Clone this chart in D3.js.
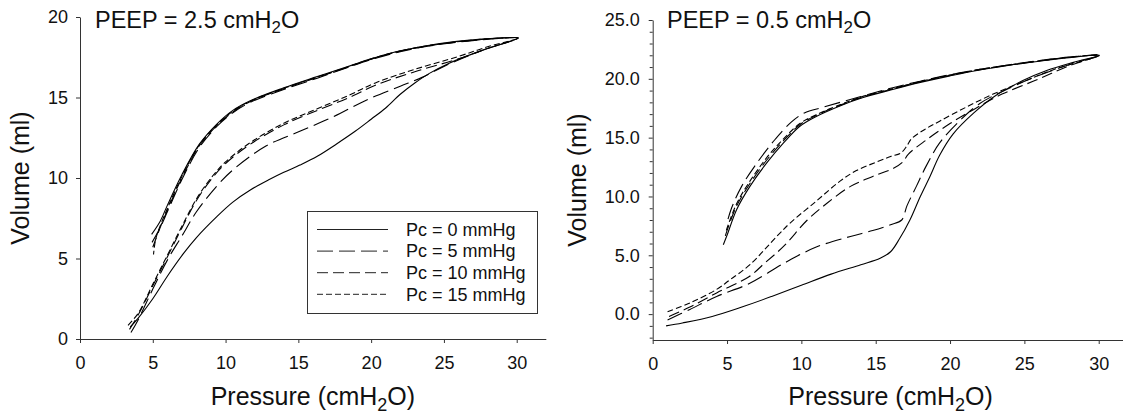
<!DOCTYPE html>
<html>
<head>
<meta charset="utf-8">
<script src="https://cdn.jsdelivr.net/npm/d3@7"></script>
<style>
  body { margin: 0; background: #fff; }
  text { font-family: "Liberation Sans", Arial, sans-serif; fill: #111; }
</style>
</head>
<body>
<div id="chart"></div>
<script>
// series labels (legend) and dash pattern per series
const seriesNames = ["Pc = 0 mmHg", "Pc = 5 mmHg", "Pc = 10 mmHg", "Pc = 15 mmHg"];

const xTicks = [0, 5, 10, 15, 20, 25, 30];
const leftYTicks = [0, 5, 10, 15, 20];
const rightYTicks = [0, 5, 10, 15, 20, 25];
const rightYMinor = [-2, -1, 1, 2, 3, 4, 6, 7, 8, 9, 11, 12, 13, 14, 16, 17, 18, 19, 21, 22, 23, 24];

// PEEP = 2.5 : [pressure, volume], inflation to 30 then deflation back
const left0 = [[3.45,0.75],[4,1.3],[5,2.5],[6,3.9],[7.1,5.3],[8,6.3],[9.4,7.6],[10.5,8.5],[11.7,9.25],[13,9.9],[14,10.35],[15.1,10.8],[16.3,11.35],[17.6,12.1],[18.9,12.9],[20,13.65],[21,14.35],[22,15.2],[23,15.9],[24,16.5],[25.4,17.15],[27.7,17.95],[30.1,18.7],
  [28.5,18.68],[26.6,18.55],[24,18.25],[22,17.9],[20,17.4],[18.5,16.95],[16.3,16.3],[14,15.6],[11.7,14.8],[10.5,14.2],[9.4,13.35],[8.2,12.1],[7,10.2],[6,8.3],[5.5,7.3],[4.92,6.5]];
const left5 = [[3.5,0.4],[4,1.2],[5,3.1],[6,4.9],[7,6.4],[8,7.9],[9.4,9.5],[10.5,10.5],[12.8,12.0],[15.1,12.9],[17.4,13.8],[19.7,14.85],[22,15.7],[23.5,16.25],[25.4,17.1],[27.7,17.95],[30.1,18.7],
  [28.5,18.65],[26.6,18.5],[24,18.2],[22,17.85],[20,17.35],[18.5,16.9],[16.3,16.2],[14,15.5],[11.7,14.7],[10.5,14.05],[9.4,13.2],[8.2,11.9],[7,9.9],[6,7.9],[5.5,6.9],[4.95,6.0]];
const left10 = [[3.4,0.6],[4,1.5],[5,3.3],[6,5.1],[7,6.9],[8,8.6],[9,9.9],[10,10.9],[11.7,12.1],[14,13.3],[16.3,14.2],[18.5,15.0],[20.4,15.8],[23,16.6],[26,17.4],[28,18.05],[30.1,18.7],
  [28.5,18.66],[26.6,18.52],[24,18.22],[22,17.88],[20,17.38],[18.5,16.92],[16.3,16.25],[14,15.55],[11.7,14.75],[10.5,14.1],[9.4,13.25],[8.2,12.0],[7,10.0],[6,8.0],[5.5,6.9],[5.0,5.7]];
const left15 = [[3.3,0.85],[4,1.6],[5,3.4],[6,5.2],[7,7.0],[8,8.7],[9,10.0],[10,11.0],[11.7,12.2],[14,13.4],[16.3,14.3],[18.5,15.15],[20.4,15.95],[23,16.75],[26,17.55],[28,18.15],[30.1,18.7],
  [28.5,18.67],[26.6,18.53],[24,18.23],[22,17.89],[20,17.4],[18.5,16.93],[16.3,16.27],[14,15.57],[11.7,14.77],[10.5,14.15],[9.4,13.3],[8.2,12.05],[7,10.1],[6,8.1],[5.5,7.0],[5.2,6.2],[5.05,5.25]];

// PEEP = 0.5
const right0 = [[0.9,-1.0],[2,-0.75],[4,-0.2],[6,0.6],[8,1.5],[10,2.45],[12,3.4],[14,4.2],[15.3,4.75],[16,5.3],[16.6,6.4],[17.3,8.0],[18,10.0],[18.65,11.7],[19.3,13.5],[20.2,15.3],[21.6,17.1],[23.1,18.6],[24.9,19.85],[26.5,20.7],[28.3,21.4],[30.05,22.0],
  [28,21.8],[26,21.5],[24,21.15],[22,20.75],[20,20.25],[18,19.7],[16,19.05],[14,18.35],[12.8,17.8],[11,16.8],[9.9,15.97],[8.8,14.55],[7.67,12.85],[6.54,10.86],[5.65,8.9],[5.0,6.7],[4.75,5.9]];
const right5 = [[1.0,-0.5],[2.5,0.4],[4.3,1.5],[6.5,2.6],[8.8,4.3],[11,5.7],[13.3,6.6],[14.8,7.1],[16,7.6],[16.75,8.0],[17.1,9.2],[17.75,10.9],[18.4,12.6],[19.3,14.55],[20.7,16.5],[22,17.9],[23.8,19.1],[26,20.3],[28,21.2],[30.05,22.0],
  [28,21.85],[26,21.55],[24,21.2],[22,20.8],[20,20.35],[18,19.8],[16,19.2],[14,18.5],[11.5,17.6],[10.2,17.1],[9.3,16.3],[8.2,14.8],[7.1,13.0],[6.0,10.9],[5.3,9.0],[4.98,7.7]];
const right10 = [[1.1,-0.2],[2.5,0.6],[4.3,1.8],[6.5,3.2],[7.5,4.3],[8.8,5.75],[10.4,8.0],[11.7,9.4],[13.3,10.86],[14.8,11.7],[16.2,12.4],[16.8,12.9],[17.2,13.6],[18.4,14.8],[20,16.2],[21.6,17.4],[23.5,18.7],[26,20.0],[28,21.1],[30.05,22.0],
  [28,21.82],[26,21.52],[24,21.17],[22,20.78],[20,20.3],[18,19.75],[16,19.1],[14,18.4],[12.8,17.85],[11,16.9],[9.9,16.1],[8.8,14.75],[7.67,13.1],[6.54,11.1],[5.65,9.2],[5.0,7.1],[4.85,6.5]];
const right15 = [[1.0,0.2],[2.5,0.95],[4.3,2.1],[5.2,2.92],[6.54,4.2],[8.34,6.6],[9.24,7.74],[11,9.6],[12.6,11.3],[13.7,12.2],[15,12.9],[16,13.4],[16.7,13.7],[17.1,14.3],[17.4,14.9],[18.3,15.7],[19.3,16.4],[21.1,17.6],[22.9,18.7],[25,19.8],[27,20.8],[30.05,22.0],
  [28,21.83],[26,21.53],[24,21.18],[22,20.8],[20,20.32],[18,19.77],[16,19.12],[14,18.45],[12.8,17.9],[11,16.95],[9.9,16.2],[8.8,14.9],[7.67,13.3],[6.54,11.3],[5.65,9.4],[5.0,7.3],[4.9,6.9]];

const dashes = [null, "16,6", "11,5", "6,3"];

let svg = d3.select("#chart").append("svg")
            .attr("width", 1123)
            .attr("height", 414);

function subText(g, x, y, before, sub, after, size) {
    let t = g.append("text")
        .attr("x", x)
        .attr("y", y)
        .style("font-size", size + "px");
    t.append("tspan").text(before);
    t.append("tspan").attr("dy", size * 0.22).style("font-size", (size * 0.72) + "px").text(sub);
    t.append("tspan").attr("dy", -size * 0.22).text(after);
    return t;
}

function drawPanel(p) {
    let g = svg.append("g");

    let x = d3.scaleLinear().domain([0, 32]).range(p.xRange);
    let y = d3.scaleLinear().domain(p.yDomain).range(p.yRange);

    // minor ticks first so majors sit over them
    if (p.yMinor) {
        g.append("g")
            .attr("transform", "translate(" + p.xRange[0] + ",0)")
            .call(d3.axisLeft(y).tickValues(p.yMinor).tickSize(3).tickFormat(""))
            .call(a => a.select(".domain").remove())
            .call(a => a.selectAll("line").attr("stroke", "#333"));
    }

    let yAxis = g.append("g")
        .attr("transform", "translate(" + p.xRange[0] + ",0)")
        .call(d3.axisLeft(y).tickValues(p.yTicks).tickSize(4).tickSizeOuter(0)
              .tickPadding(p.yPad).tickFormat(d3.format(p.yFormat)));

    let xAxis = g.append("g")
        .attr("transform", "translate(0," + p.yRange[0] + ")")
        .call(d3.axisBottom(x).tickValues(xTicks).tickSize(4).tickSizeOuter(0).tickPadding(13));

    [yAxis, xAxis].forEach(a => {
        a.select(".domain").attr("stroke", "#333");
        a.selectAll(".tick line").attr("stroke", "#333");
        a.selectAll(".tick text")
            .style("font-size", "18px")
            .style("font-family", "'Liberation Sans', Arial, sans-serif")
            .attr("fill", "#111");
    });

    let line = d3.line()
        .x(d => x(d[0]))
        .y(d => y(d[1]))
        .curve(d3.curveCatmullRom.alpha(0.5));

    p.series.forEach((s, i) => {
        g.append("path")
            .attr("d", line(s))
            .attr("fill", "none")
            .attr("stroke", "#000")
            .attr("stroke-width", 1.1)
            .attr("stroke-dasharray", dashes[i]);
    });

    subText(g, p.titleX, 28, p.title, "2", "O", 23.5);

    // axis titles
    let cx = (p.xRange[0] + p.xRange[1]) / 2;
    let xl = subText(g, cx, 405, "Pressure (cmH", "2", "O)", 25);
    xl.attr("text-anchor", "middle");

    g.append("text")
        .attr("transform", "translate(" + p.yLabelX + "," + ((p.yRange[0] + p.yRange[1]) / 2) + ") rotate(-90)")
        .attr("text-anchor", "middle")
        .style("font-size", "25px")
        .text("Volume (ml)");

    if (p.legend) {
        let lg = g.append("g");
        lg.append("rect")
            .attr("x", 307.5).attr("y", 211.5)
            .attr("width", 230).attr("height", 102)
            .attr("fill", "#fff")
            .attr("stroke", "#333");
        seriesNames.forEach((name, i) => {
            let ry = 229.5 + i * 21.6;
            lg.append("line")
                .attr("x1", 317).attr("x2", 388)
                .attr("y1", ry).attr("y2", ry)
                .attr("stroke", "#222")
                .attr("stroke-dasharray", dashes[i]);
            lg.append("text")
                .attr("x", 406).attr("y", ry)
                .attr("dy", "0.35em")
                .style("font-size", "18px")
                .text(name);
        });
    }
}

drawPanel({
    xRange: [80, 80 + 32 * 14.557],
    yDomain: [0, 20],
    yRange: [339, 17],
    yTicks: leftYTicks,
    yFormat: "d",
    yPad: 8,
    title: "PEEP = 2.5 cmH",
    titleX: 95,
    yLabelX: 29,
    series: [left0, left5, left10, left15],
    legend: true
});

drawPanel({
    xRange: [652.7, 652.7 + 32 * 14.867],
    yDomain: [-2.2, 25],
    yRange: [340, 20],
    yTicks: rightYTicks,
    yMinor: rightYMinor,
    yFormat: ".1f",
    yPad: 9,
    title: "PEEP = 0.5 cmH",
    titleX: 667,
    yLabelX: 586,
    series: [right0, right5, right10, right15],
    legend: false
});
</script>
</body>
</html>
